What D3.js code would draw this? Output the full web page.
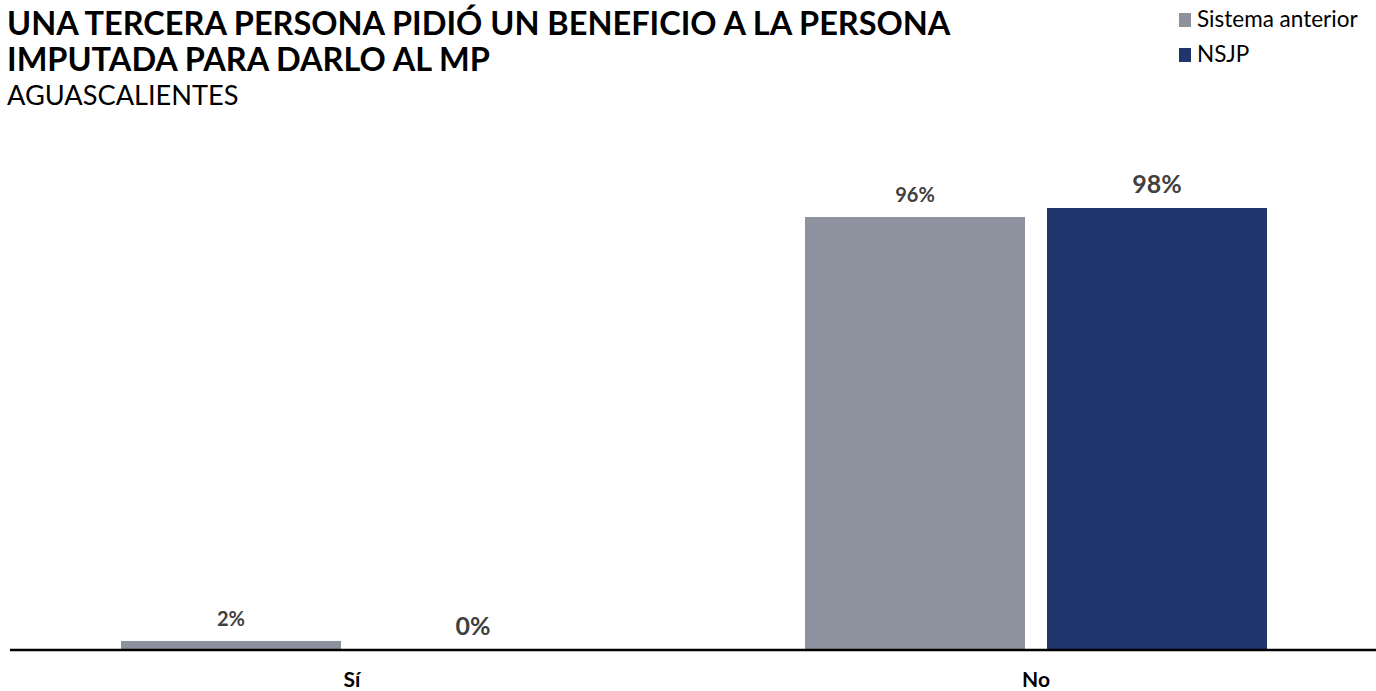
<!DOCTYPE html>
<html>
<head>
<meta charset="utf-8">
<script src="https://cdn.jsdelivr.net/npm/d3@7"></script>
<style>
  html, body { margin: 0; padding: 0; background: #fff; }
  svg { display: block; font-family: Lato, "Open Sans", sans-serif; }
</style>
</head>
<body>
<svg id="chart" width="1376" height="691"></svg>
<script>
const categories = ["Sí", "No"];
const seriesNames = ["Sistema anterior", "NSJP"];
const sistemaAnterior = [2, 96];
const nsjp = [0, 98];
const titleLines = ["UNA TERCERA PERSONA PIDIÓ UN BENEFICIO A LA PERSONA", "IMPUTADA PARA DARLO AL MP"];
const subtitle = "AGUASCALIENTES";

const colors = ["#8e929e", "#20356b"];
const labelSizes = [20, 25];

const svg = d3.select("#chart");
const W = 1376, H = 691;
const baseY = 650;

const x0 = d3.scaleBand().domain(categories).range([10, 1378]).padding(0);
const x1 = d3.scaleBand().domain(seriesNames).range([111, x0.bandwidth() - 111]).paddingInner(0.0909);
const y = d3.scaleLinear().domain([0, 100]).range([baseY, baseY - 451]);

const data = categories.map((c, i) => ({
  cat: c,
  vals: [
    { s: seriesNames[0], v: sistemaAnterior[i], k: 0 },
    { s: seriesNames[1], v: nsjp[i], k: 1 }
  ]
}));

const g = svg.append("g");
const groups = g.selectAll("g.cat").data(data).enter().append("g")
  .attr("transform", d => `translate(${x0(d.cat)},0)`);

groups.selectAll("rect").data(d => d.vals).enter().append("rect")
  .attr("x", d => x1(d.s))
  .attr("width", x1.bandwidth())
  .attr("y", d => y(d.v))
  .attr("height", d => baseY - y(d.v))
  .attr("fill", d => colors[d.k]);

groups.selectAll("text.val").data(d => d.vals).enter().append("text")
  .attr("class", "val")
  .attr("x", d => x1(d.s) + x1.bandwidth() / 2)
  .attr("y", d => y(d.v) - 15)
  .attr("text-anchor", "middle")
  .attr("font-size", d => labelSizes[d.k])
  .attr("font-weight", "bold")
  .attr("fill", "#404040")
  .text(d => d.v + "%");

// axis
const xAxis = d3.axisBottom(x0).tickSize(0).tickPadding(0);
const axG = svg.append("g").attr("transform", `translate(0,${baseY})`).call(xAxis);
axG.select(".domain").attr("d", `M10,0H${W}`).attr("stroke", "#000").attr("stroke-width", 2.5);
axG.selectAll(".tick text")
  .attr("dy", 0)
  .attr("y", 37)
  .attr("font-family", "Lato, sans-serif")
  .attr("font-size", 21)
  .attr("font-weight", "bold")
  .attr("fill", "#000");

// title
svg.append("text").attr("x", 7).attr("y", 35)
  .attr("font-size", 32.5).attr("font-weight", "bold").attr("fill", "#000")
  .selectAll("tspan").data(titleLines).enter().append("tspan")
  .attr("x", 7).attr("dy", (d, i) => i === 0 ? 0 : 36).text(d => d);

svg.append("text").attr("x", 7).attr("y", 105)
  .attr("font-size", 27.2).attr("fill", "#000").text(subtitle);

// legend
const lg = svg.append("g").attr("transform", "translate(1179,13)");
const li = lg.selectAll("g").data(seriesNames).enter().append("g")
  .attr("transform", (d, i) => `translate(0,${i * 35})`);
li.append("rect").attr("width", 12).attr("height", 14).attr("fill", (d, i) => colors[i]);
li.append("text").attr("x", 18).attr("y", 14).attr("font-size", 22.5).attr("fill", "#000").text(d => d);
</script>
</body>
</html>
